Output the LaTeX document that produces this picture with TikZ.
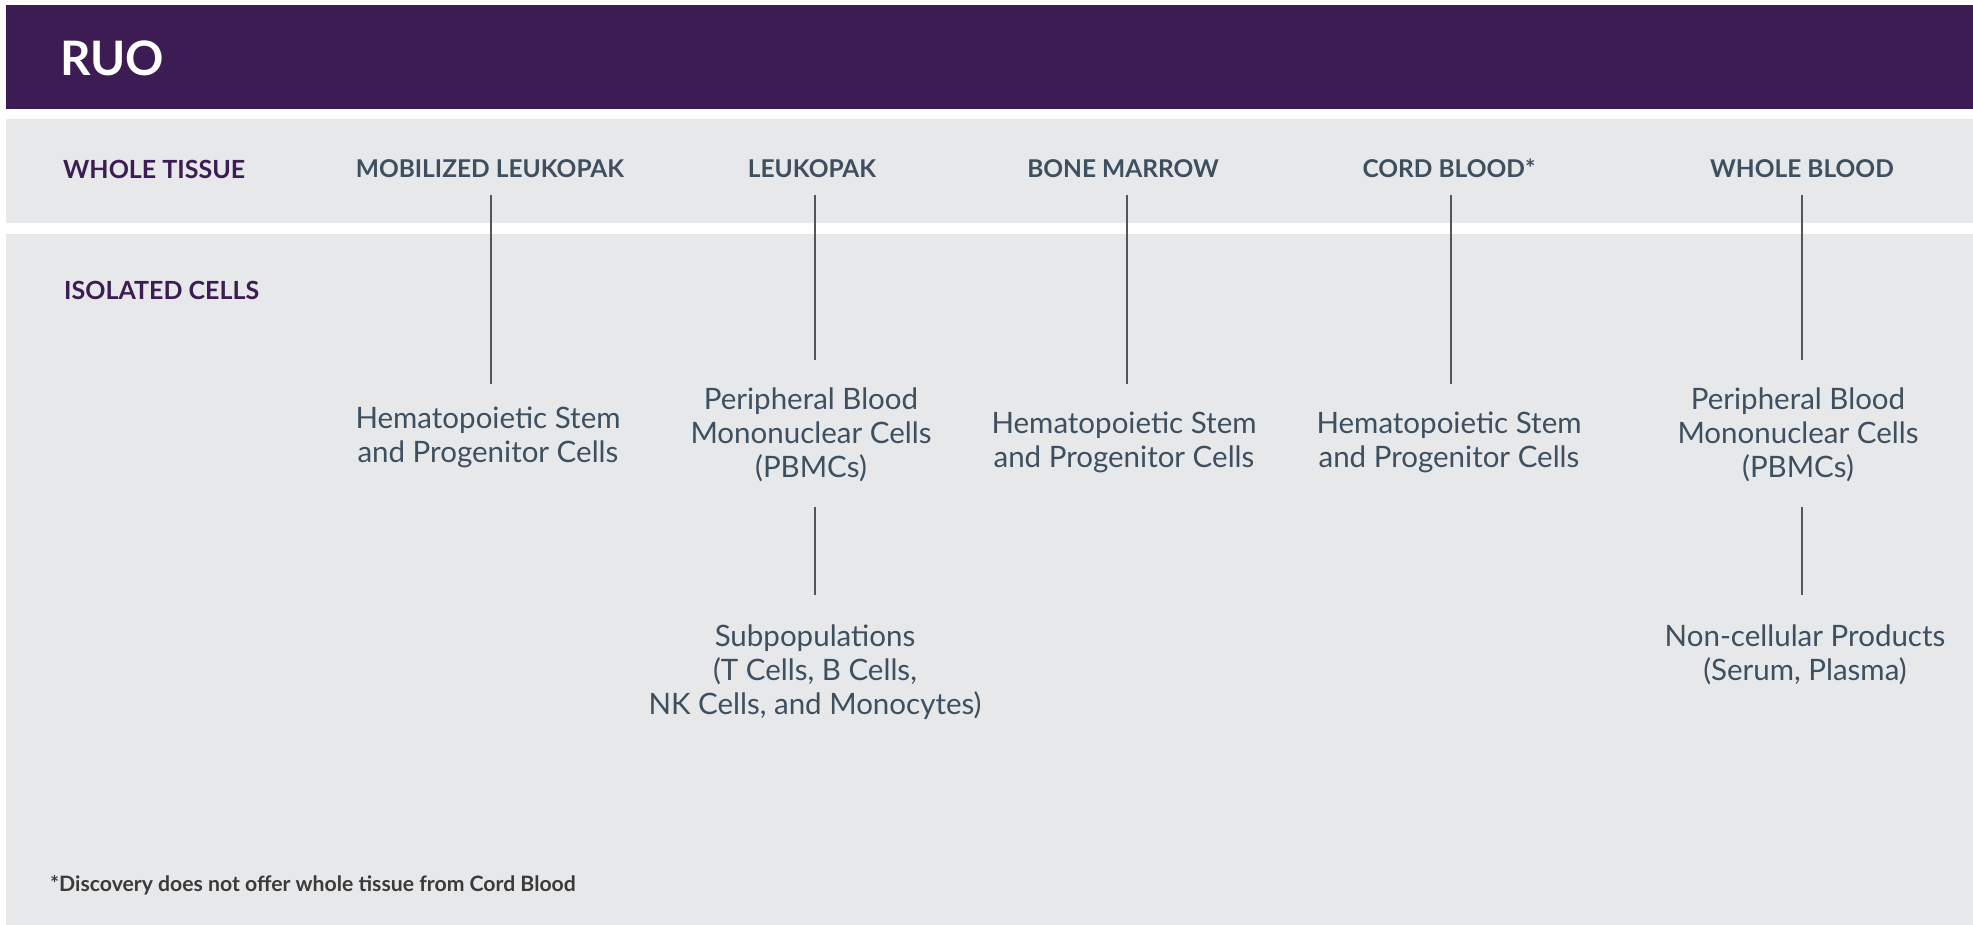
\documentclass[tikz,border=0pt]{standalone}
\usepackage{fontspec}
\setmainfont{Lato}
\definecolor{ruo}{HTML}{3C1C52}
\definecolor{band}{HTML}{E7E8EA}
\definecolor{slate}{HTML}{3E4F5F}
\definecolor{connc}{HTML}{555555}
\definecolor{foot}{HTML}{3A3A3A}
\tikzset{
  rowlabel/.style={anchor=base west,inner sep=0pt,text=ruo,font=\fontsize{25}{28}\selectfont\bfseries},
  colhead/.style={anchor=base,inner sep=0pt,text=slate,font=\fontsize{24.5}{28}\selectfont\bfseries},
  celltext/.style={anchor=base,inner sep=0pt,align=center,text=slate,font=\fontsize{29.5}{34}\selectfont},
  conn/.style={draw=connc,line width=1.6pt}
}
\begin{document}
\begin{tikzpicture}[x=1pt,y=-1pt]
\useasboundingbox (0,0) rectangle (1973,925);
\fill[white] (0,0) rectangle (1973,925);
\fill[ruo] (6,5) rectangle (1973,109.5);
\fill[band] (6,119.5) rectangle (1973,223);
\fill[band] (6,234) rectangle (1973,925);

\node[anchor=base west,inner sep=0pt,text=white,font=\fontsize{47.5}{52}\selectfont\bfseries] (ruo) at (60,75.5) {RUO};

\node[rowlabel] (wt) at (63,178.5) {WHOLE TISSUE};
\node[rowlabel] (ic) at (64,299.5) {ISOLATED CELLS};

\node[colhead] (h1) at (490,177.5) {MOBILIZED LEUKOPAK};
\node[colhead] (h2) at (812,177.5) {LEUKOPAK};
\node[colhead] (h3) at (1123,177.5) {BONE MARROW};
\node[colhead] (h4) at (1449,177.5) {CORD BLOOD*};
\node[colhead] (h5) at (1802,177.5) {WHOLE BLOOD};

% base anchor = baseline of the last line
\node[celltext] (c1) at (488,462) {Hematopoietic Stem\\and Progenitor Cells};
\node[celltext] (c2) at (811,477) {Peripheral Blood\\Mononuclear Cells\\(PBMCs)};
\node[celltext] (c3) at (1124,467) {Hematopoietic Stem\\and Progenitor Cells};
\node[celltext] (c4) at (1449,467) {Hematopoietic Stem\\and Progenitor Cells};
\node[celltext] (c5) at (1798,477) {Peripheral Blood\\Mononuclear Cells\\(PBMCs)};
\node[celltext] (s2) at (815,714) {Subpopulations\\(T Cells, B Cells,\\NK Cells, and Monocytes)};
\node[celltext] (s5) at (1805,680) {Non-cellular Products\\(Serum, Plasma)};

\node[anchor=base west,inner sep=0pt,text=foot,font=\fontsize{21.2}{24}\selectfont\bfseries] (fn) at (50,891) {*Discovery does not offer whole tissue from Cord Blood};

\coordinate (a1) at (490.7,195); \coordinate (b1) at (490.7,384);
\coordinate (a2) at (815,195);   \coordinate (b2) at (815,360);
\coordinate (a3) at (1127,195);  \coordinate (b3) at (1127,384);
\coordinate (a4) at (1451,195);  \coordinate (b4) at (1451,384);
\coordinate (a5) at (1802,195);  \coordinate (b5) at (1802,360);
\coordinate (d2) at (815,507);   \coordinate (e2) at (815,595);
\coordinate (d5) at (1802,507);  \coordinate (e5) at (1802,595);
\draw[conn] (a1) -- (b1);
\draw[conn] (a2) -- (b2);
\draw[conn] (a3) -- (b3);
\draw[conn] (a4) -- (b4);
\draw[conn] (a5) -- (b5);
\draw[conn] (d2) -- (e2);
\draw[conn] (d5) -- (e5);
\end{tikzpicture}
\end{document}
